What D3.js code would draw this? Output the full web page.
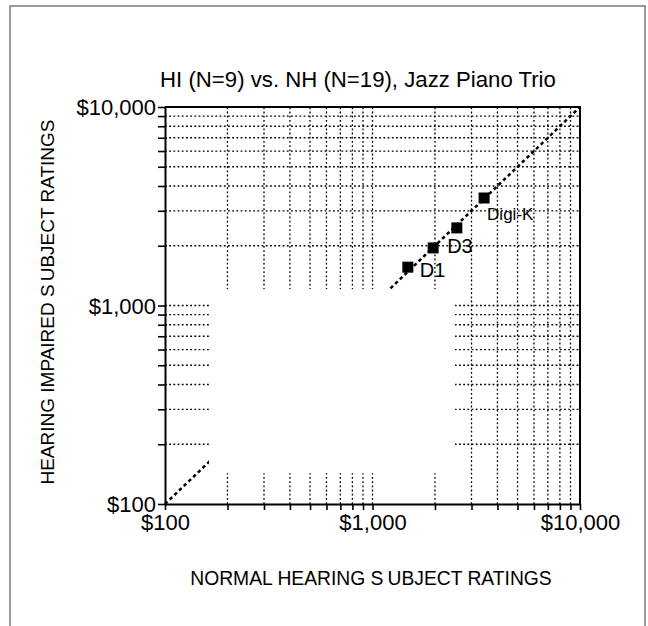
<!DOCTYPE html>
<html>
<head>
<meta charset="utf-8">
<script src="https://cdn.jsdelivr.net/npm/d3@7"></script>
<style>
body { margin: 0; background: #fff; }
svg { display: block; font-family: "Liberation Sans", Arial, sans-serif; }
</style>
</head>
<body>
<script>
// ratings
var names = ["D1", "D3", "", "Digi-K"];
var nhRatings = [1480, 1960, 2550, 3450];   // normal hearing (x)
var hiRatings = [1560, 1950, 2460, 3480];   // hearing impaired (y)
var gridVals = [200, 300, 400, 500, 600, 700, 800, 900, 1000,
	2000, 3000, 4000, 5000, 6000, 7000, 8000, 9000];
var tickVals = [100].concat(gridVals, [10000]);
var tickLabels = {100: "$100", 1000: "$1,000", 10000: "$10,000"};

var labelOff = [[12, 10], [14, 5], [0, 0], [3, 22]];

var W = 648, H = 626,
pLeft = 165, pRight = 580, pTop = 107, pBottom = 504;

var x = d3.scaleLog().domain([100, 10000]).range([pLeft, pRight]),
y = d3.scaleLog().domain([100, 10000]).range([pBottom, pTop]);

var svg = d3.select("body").append("svg")
	.attr("width", W).attr("height", H);

// outer frame of the figure
svg.append("rect")
	.attr("x", 10).attr("y", 6)
	.attr("width", 635).attr("height", 640)
	.attr("fill", "none").attr("stroke", "#666").attr("stroke-width", 1.3);

svg.append("text")
	.attr("x", 358).attr("y", 87)
	.attr("text-anchor", "middle")
	.attr("font-size", 22.2)
	.text("HI (N=9) vs. NH (N=19), Jazz Piano Trio");

var grid = svg.append("g")
	.attr("stroke", "#000").attr("stroke-width", 1.3)
	.attr("stroke-dasharray", "1.8,2.4");

grid.selectAll("line.v").data(gridVals).enter().append("line")
	.attr("class", "v")
	.attr("x1", function(d) { return x(d); }).attr("x2", function(d) { return x(d); })
	.attr("y1", pBottom).attr("y2", pTop);

grid.selectAll("line.h").data(gridVals).enter().append("line")
	.attr("class", "h")
	.attr("y1", function(d) { return y(d); }).attr("y2", function(d) { return y(d); })
	.attr("x1", pLeft).attr("x2", pRight);

// equal-rating diagonal
svg.append("line")
	.attr("x1", x(100)).attr("y1", y(100))
	.attr("x2", x(10000)).attr("y2", y(10000))
	.attr("stroke", "#000").attr("stroke-width", 2.5)
	.attr("stroke-dasharray", "3.5,3");

// empty (blank) box that hides part of the grid
svg.append("rect")
	.attr("x", x(163)).attr("y", y(1210))
	.attr("width", x(2500) - x(163))
	.attr("height", y(143) - y(1210))
	.attr("fill", "#fff");

var xAxis = d3.axisBottom(x).tickValues(tickVals).tickSizeInner(6).tickSizeOuter(0)
	.tickFormat(function(d) { return tickLabels[d] || ""; });
var yAxis = d3.axisLeft(y).tickValues(tickVals).tickSizeInner(7).tickSizeOuter(0)
	.tickFormat(function(d) { return tickLabels[d] || ""; });

var gx = svg.append("g").attr("transform", "translate(0," + pBottom + ")").call(xAxis);
var gy = svg.append("g").attr("transform", "translate(" + pLeft + ",0)").call(yAxis);

[gx, gy].forEach(function(g) {
	g.select(".domain").attr("stroke-width", 2);
	g.selectAll(".tick line").attr("stroke-width", 1.6);
	g.selectAll(".tick text").attr("font-size", 22).attr("font-family", "Liberation Sans, Arial, sans-serif").attr("fill", "#000");
});
gx.selectAll(".tick text").attr("y", 10).attr("dy", "0.71em");
gy.selectAll(".tick text").attr("x", -9).attr("dy", "0.36em");

// top and right frame
svg.append("path")
	.attr("d", "M" + pLeft + "," + pTop + "H" + pRight + "V" + pBottom)
	.attr("fill", "none").attr("stroke", "#000").attr("stroke-width", 2);

var xt = svg.append("text")
	.attr("x", 371).attr("y", 585)
	.attr("text-anchor", "middle").attr("font-size", 19.3);
xt.append("tspan").text("NORMAL HEARING S");
xt.append("tspan").attr("dx", 4).text("UBJECT RATINGS");

var yt = svg.append("text")
	.attr("transform", "translate(54,302) rotate(-90)")
	.attr("text-anchor", "middle").attr("font-size", 19);
yt.append("tspan").text("HEARING IMPAIRED S");
yt.append("tspan").attr("dx", 3).text("UBJECT RATINGS");

var pts = svg.append("g").selectAll("g").data(names).enter().append("g");

pts.append("rect")
	.attr("x", function(d, i) { return x(nhRatings[i]) - 5.5; })
	.attr("y", function(d, i) { return y(hiRatings[i]) - 5.5; })
	.attr("width", 11).attr("height", 11)
	.attr("fill", "#000");

pts.append("text")
	.attr("x", function(d, i) { return x(nhRatings[i]) + labelOff[i][0]; })
	.attr("y", function(d, i) { return y(hiRatings[i]) + labelOff[i][1]; })
	.attr("font-size", function(d) { return d == "Digi-K" ? 17 : 20; })
	.text(function(d) { return d; });
</script>
</body>
</html>
